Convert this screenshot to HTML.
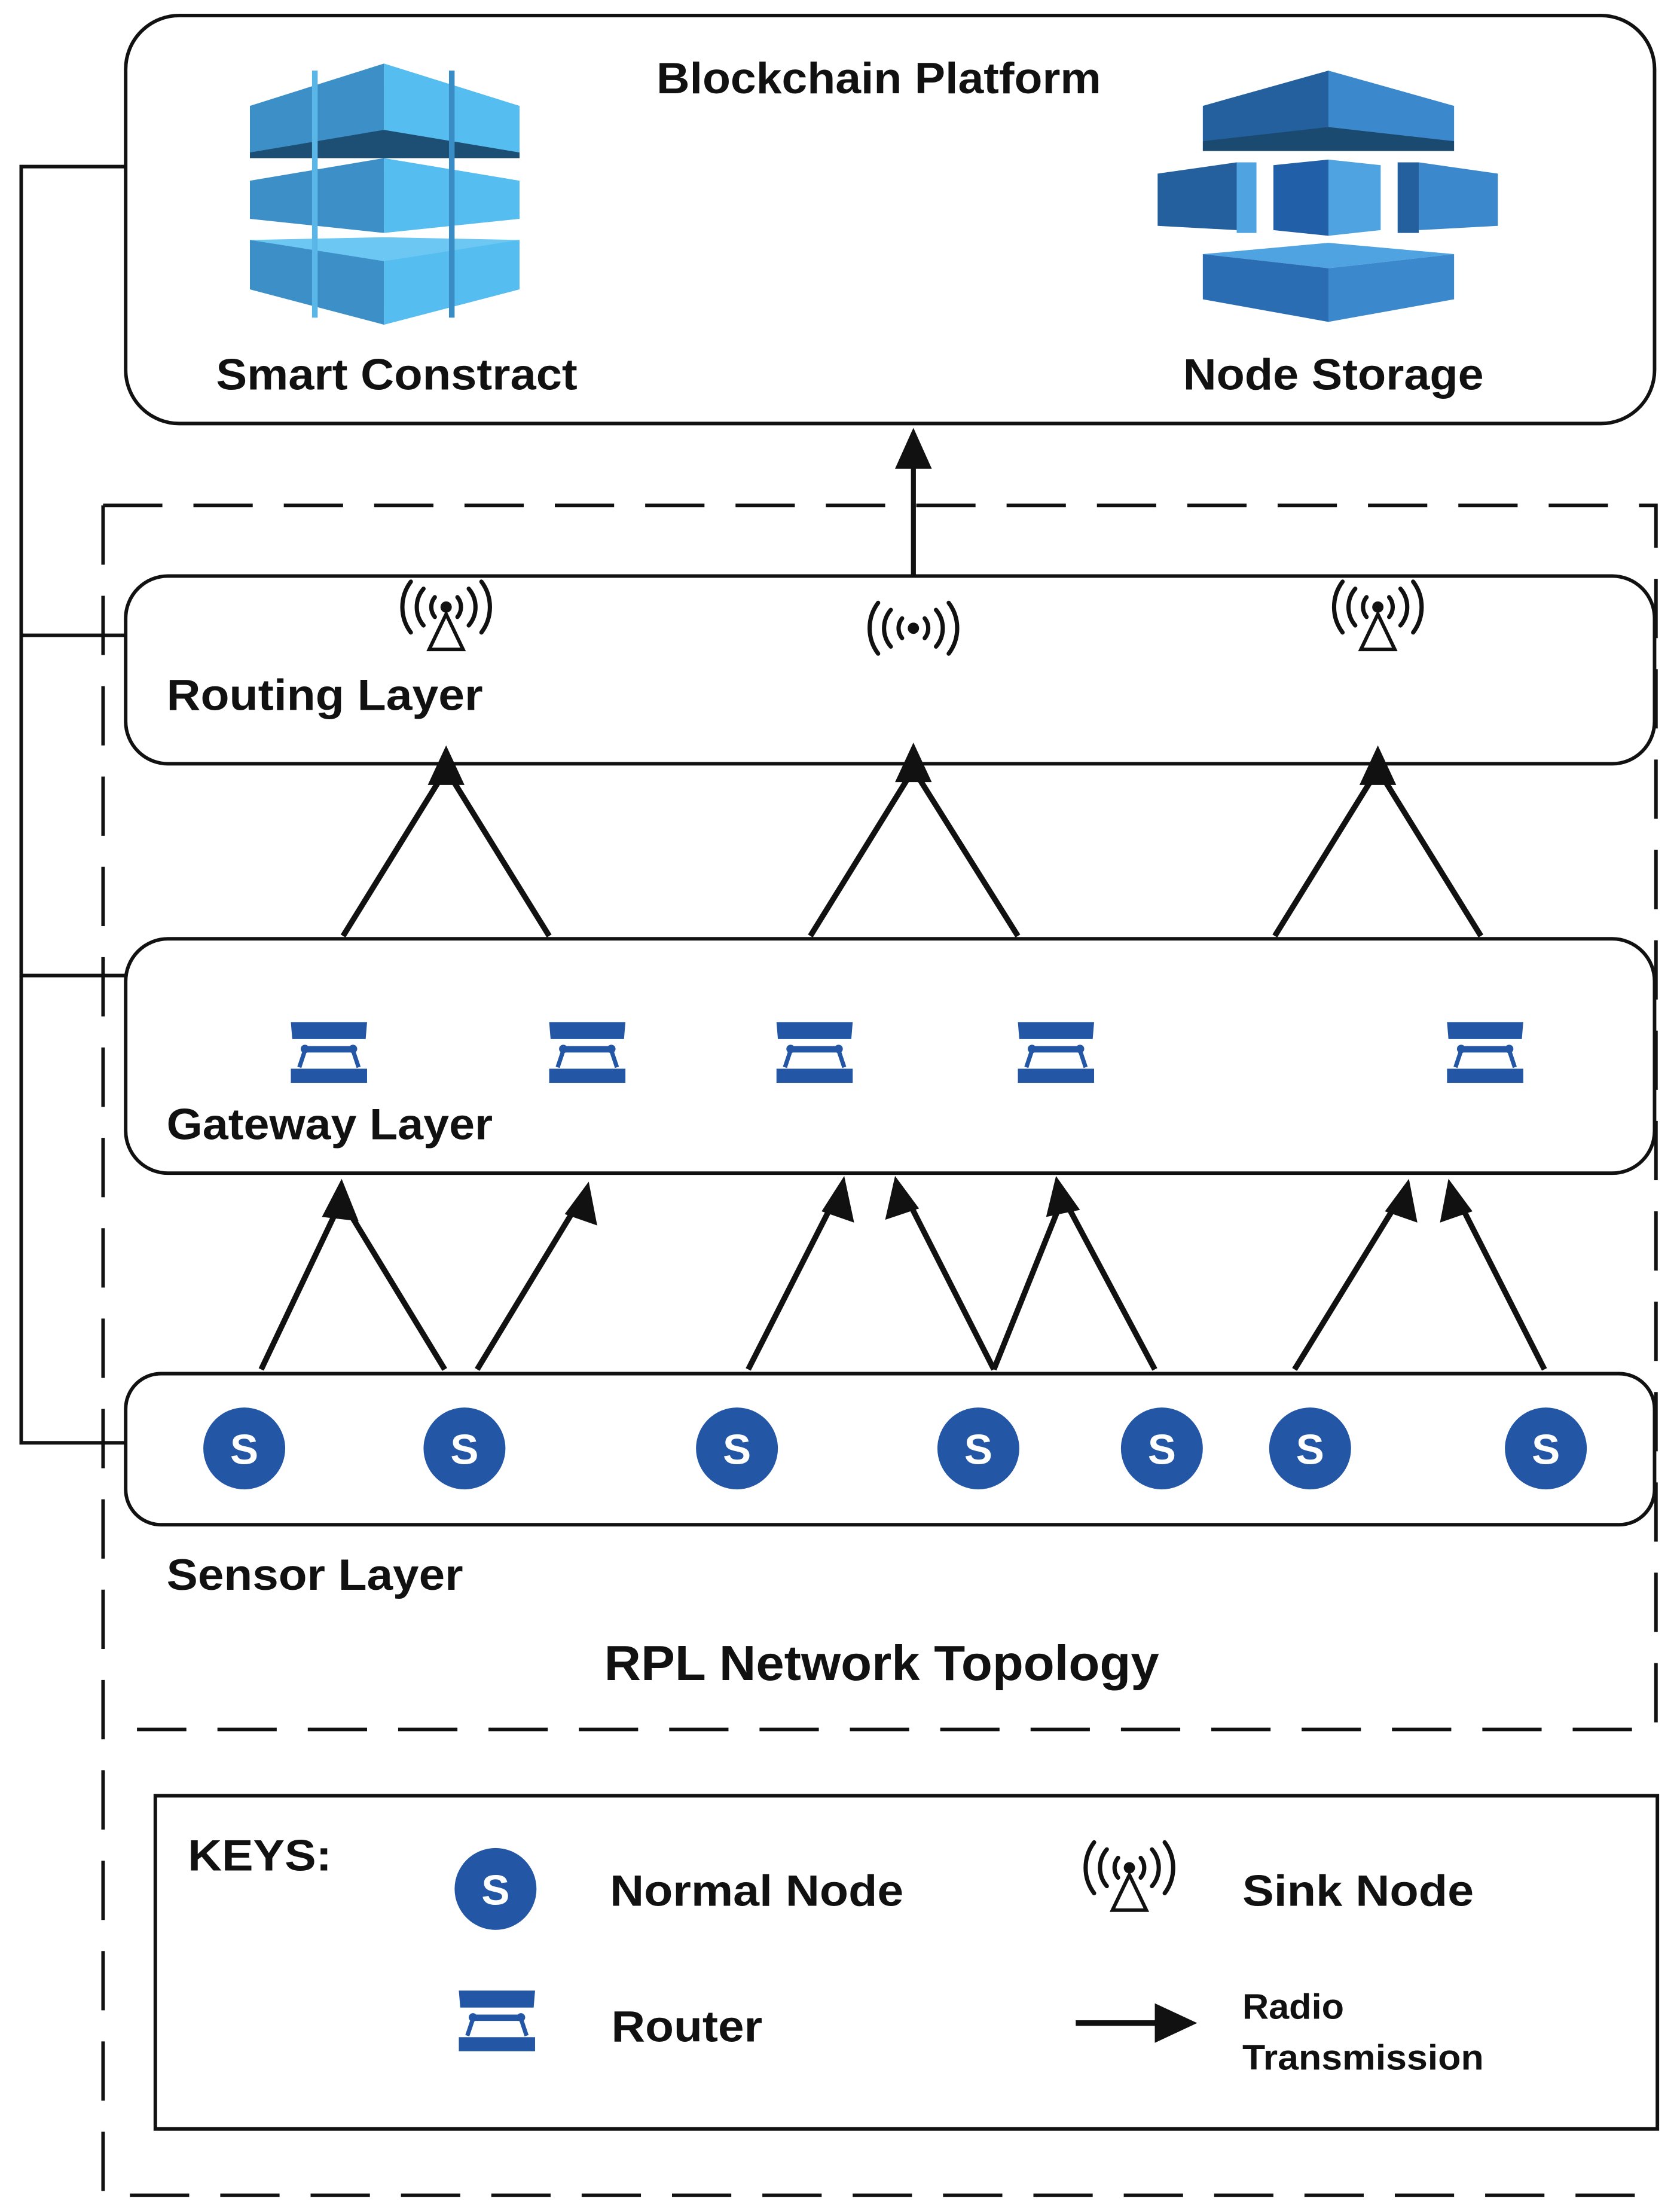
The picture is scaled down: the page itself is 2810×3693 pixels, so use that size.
<!DOCTYPE html>
<html><head><meta charset="utf-8"><style>
html,body{margin:0;padding:0;background:#fff;}
svg{display:block;}
text{font-family:"Liberation Sans",sans-serif;font-weight:bold;fill:#111;}
</style></head><body>
<svg width="2810" height="3693" viewBox="0 0 1190 1564" xmlns="http://www.w3.org/2000/svg">
<defs>
<g id="router" fill="#2456a6">
<polygon points="0,0 54,0 53,12 1,12"/>
<rect x="0" y="33" width="54" height="10"/>
<path d="M6,32 L10,20 L44,20 L48,32" fill="none" stroke="#2456a6" stroke-width="3"/>
<rect x="8" y="17" width="38" height="4"/>
<circle cx="10" cy="19" r="3"/><circle cx="44" cy="19" r="3"/>
</g>
<g id="waves" fill="none" stroke="#111" stroke-width="3" stroke-linecap="round">
<circle cx="0" cy="0" r="4" fill="#111" stroke="none"/>
<path d="M-8,-7 A11,11 0 0 0 -8,7 M8,-7 A11,11 0 0 1 8,7"/>
<path d="M-16,-13 A20,20 0 0 0 -16,13 M16,-13 A20,20 0 0 1 16,13"/>
<path d="M-25,-18 A30,30 0 0 0 -25,18 M25,-18 A30,30 0 0 1 25,18"/>
</g>
<g id="sink">
<use href="#waves"/>
<polygon points="0,5 -12,30 12,30" fill="none" stroke="#111" stroke-width="2.5"/>
</g>
<g id="snode">
<circle cx="0" cy="0" r="29" fill="#2456a6"/>
<text x="0" y="11" text-anchor="middle" font-size="30" style="fill:#fff">S</text>
</g>
</defs>

<path d="M89,118 H15 V1022 H89 M15,450 H89 M15,691 H89" fill="none" stroke="#111" stroke-width="2.5"/>

<g fill="none" stroke="#111" stroke-width="2.5" stroke-dasharray="42,22">
<path d="M73,358 H1173 V1225 H97"/>
<path d="M73,358 V1555 H1173"/>
</g>

<rect x="89" y="11" width="1083" height="289" rx="38" fill="#fff" stroke="#111" stroke-width="2.5"/>
<text x="465" y="66" font-size="31" textLength="315" lengthAdjust="spacingAndGlyphs">Blockchain Platform</text>
<text x="153" y="276" font-size="31" textLength="256" lengthAdjust="spacingAndGlyphs">Smart Constract</text>
<text x="838" y="276" font-size="31" textLength="213" lengthAdjust="spacingAndGlyphs">Node Storage</text>

<g>
<polygon points="177,75 272,45 272,108 177,108" fill="#3d8fc7"/>
<polygon points="272,45 368,75 368,108 272,108" fill="#56bdf0"/>
<polygon points="177,108 272,92 368,108 368,112 177,112" fill="#1d4e73"/>
<polygon points="177,128 272,112 272,165 177,155" fill="#3d8fc7"/>
<polygon points="272,112 368,128 368,155 272,165" fill="#56bdf0"/>
<polygon points="177,170 272,175 272,230 177,205" fill="#3d8fc7"/>
<polygon points="272,175 368,170 368,205 272,230" fill="#56bdf0"/>
<polygon points="177,170 272,168 368,170 272,185" fill="#6cc8f2"/>
<rect x="221" y="50" width="4" height="175" fill="#5ab6e6"/>
<rect x="318" y="50" width="4" height="175" fill="#3a8cc4"/>
</g>
<g>
<polygon points="852,75 941,50 941,100 852,100" fill="#245f9e"/>
<polygon points="941,50 1030,75 1030,100 941,100" fill="#3b88cc"/>
<polygon points="852,100 941,90 1030,100 1030,107 852,107" fill="#1a4a70"/>
<polygon points="820,123 876,115 876,163 820,160" fill="#245f9e"/>
<polygon points="1005,115 1061,123 1061,160 1005,163" fill="#3b88cc"/>
<rect x="876" y="115" width="14" height="50" fill="#4ea3e0"/>
<rect x="990" y="115" width="15" height="50" fill="#245f9e"/>
<polygon points="902,117 941,113 941,167 902,163" fill="#2160a8"/>
<polygon points="941,113 978,117 978,163 941,167" fill="#4ea3e0"/>
<polygon points="852,180 941,172 1030,180 941,190" fill="#4ea3e0"/>
<polygon points="852,180 941,190 941,228 852,212" fill="#2a6db3"/>
<polygon points="941,190 1030,180 1030,212 941,228" fill="#3b88cc"/>
</g>

<line x1="647" y1="407" x2="647" y2="322" stroke="#111" stroke-width="3.5"/>
<polygon points="647,303 634,332 660,332" fill="#111"/>

<rect x="89" y="408" width="1083" height="133" rx="30" fill="#fff" stroke="#111" stroke-width="2.5"/>
<text x="118" y="503" font-size="31" textLength="224" lengthAdjust="spacingAndGlyphs">Routing Layer</text>
<use href="#sink" x="316" y="430"/>
<use href="#waves" x="647" y="445"/>
<use href="#sink" x="976" y="430"/>

<g stroke="#111" stroke-width="4" fill="none">
<path d="M243,663 L316,545 L389,663"/>
<path d="M574,663 L647,545 L721,663"/>
<path d="M903,663 L976,545 L1049,663"/>
</g>
<g fill="#111">
<polygon points="316,528 303,556 329,556"/>
<polygon points="647,526 634,554 660,554"/>
<polygon points="976,528 963,556 989,556"/>
</g>

<rect x="89" y="665" width="1083" height="166" rx="30" fill="#fff" stroke="#111" stroke-width="2.5"/>
<text x="118" y="807" font-size="31" textLength="231" lengthAdjust="spacingAndGlyphs">Gateway Layer</text>
<use href="#router" x="206" y="724"/>
<use href="#router" x="389" y="724"/>
<use href="#router" x="550" y="724"/>
<use href="#router" x="721" y="724"/>
<use href="#router" x="1025" y="724"/>

<g stroke="#111" stroke-width="4" fill="none">
<path d="M185,970 L242,850 L315,970"/>
<path d="M338,970 L412,848"/>
<path d="M530,970 L592,848"/>
<path d="M704,970 L642,848"/>
<path d="M704,970 L753,848 L818,970"/>
<path d="M917,970 L992,848"/>
<path d="M1094,970 L1032,848"/>
</g>
<g fill="#111">
<polygon points="242,835 228,862 254,865"/>
<polygon points="417,837 400,860 423,868"/>
<polygon points="598,833 582,858 605,866"/>
<polygon points="634,833 627,864 651,856"/>
<polygon points="748,833 741,862 765,857"/>
<polygon points="998,835 981,858 1004,866"/>
<polygon points="1026,835 1020,866 1043,858"/>
</g>

<rect x="89" y="973" width="1083" height="107" rx="25" fill="#fff" stroke="#111" stroke-width="2.5"/>
<use href="#snode" x="173" y="1026"/>
<use href="#snode" x="329" y="1026"/>
<use href="#snode" x="522" y="1026"/>
<use href="#snode" x="693" y="1026"/>
<use href="#snode" x="823" y="1026"/>
<use href="#snode" x="928" y="1026"/>
<use href="#snode" x="1095" y="1026"/>
<text x="118" y="1126" font-size="31" textLength="210" lengthAdjust="spacingAndGlyphs">Sensor Layer</text>
<text x="428" y="1190" font-size="35" textLength="393" lengthAdjust="spacingAndGlyphs">RPL Network Topology</text>

<rect x="110" y="1272" width="1064" height="236" fill="#fff" stroke="#111" stroke-width="2.5"/>
<text x="133" y="1325" font-size="31" textLength="102" lengthAdjust="spacingAndGlyphs">KEYS:</text>
<use href="#snode" x="351" y="1338"/>
<text x="432" y="1350" font-size="31" textLength="208" lengthAdjust="spacingAndGlyphs">Normal Node</text>
<use href="#sink" x="800" y="1323"/>
<text x="880" y="1350" font-size="31" textLength="164" lengthAdjust="spacingAndGlyphs">Sink Node</text>
<use href="#router" x="325" y="1410"/>
<text x="433" y="1446" font-size="31" textLength="107" lengthAdjust="spacingAndGlyphs">Router</text>
<line x1="762" y1="1433" x2="825" y2="1433" stroke="#111" stroke-width="4"/>
<polygon points="848,1433 818,1419 818,1447" fill="#111"/>
<text x="880" y="1430" font-size="25" textLength="72" lengthAdjust="spacingAndGlyphs">Radio</text>
<text x="880" y="1466" font-size="25" textLength="171" lengthAdjust="spacingAndGlyphs">Transmission</text>
</svg>
</body></html>
